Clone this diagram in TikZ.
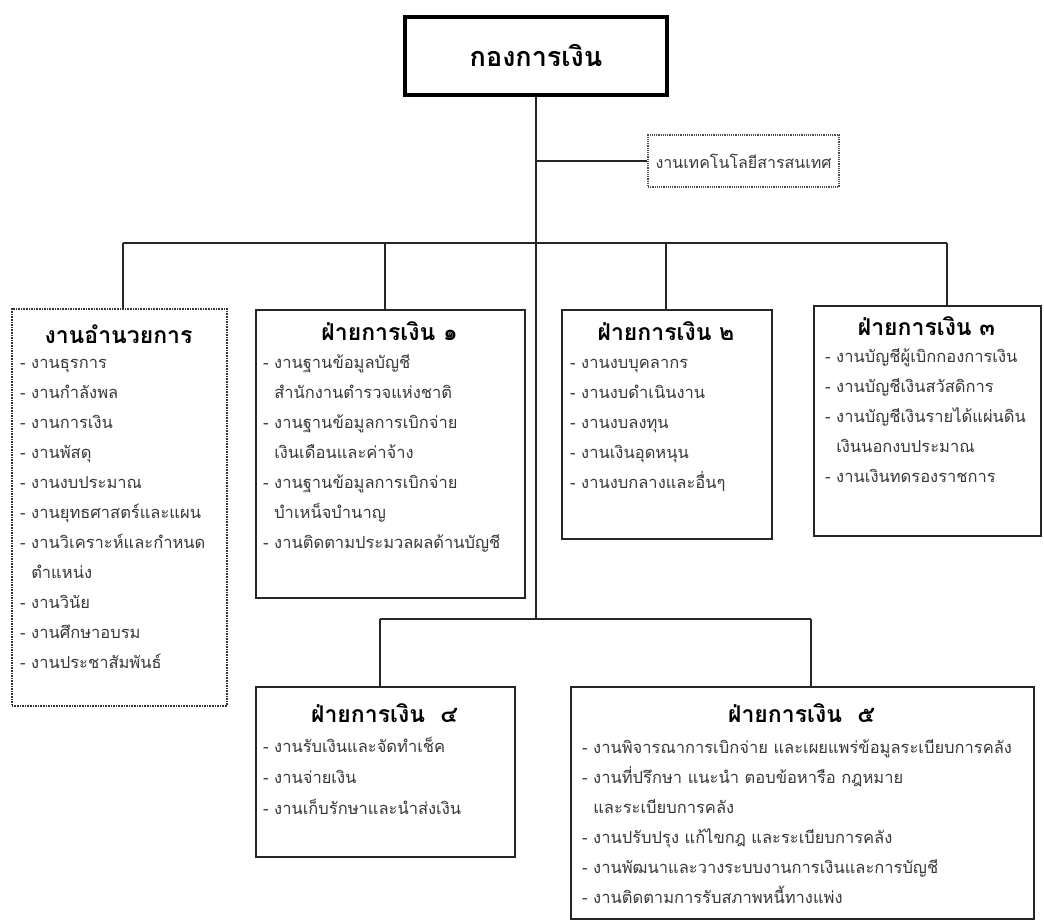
\documentclass[tikz,border=0pt]{standalone}
\usepackage{fontspec}
\setmainfont[Script=Thai]{Loma}
\begin{document}
\begin{tikzpicture}[x=1pt,y=-1pt]
\tikzset{
  conn/.style={draw=black!85, line width=1.5pt},
  boxs/.style={draw=black!85, line width=2pt, rectangle, inner sep=0pt, anchor=north west},
  boxd/.style={draw=black!80, line width=1.6pt, densely dotted, rectangle, inner sep=0pt, anchor=north west},
  ttl/.style={font=\fontsize{23}{28}\selectfont\bfseries, anchor=base, inner sep=0pt},
  itm/.style={font=\fontsize{16.5}{20}\selectfont, text=black!78, anchor=base west, inner sep=0pt},
}
\useasboundingbox (0,0) rectangle (1044,920);
% top
\node[draw=black, line width=4pt, minimum width=262pt, minimum height=78pt, inner sep=0pt,
      font=\fontsize{27}{30}\selectfont\bfseries] (top) at (536,56) {กองการเงิน};
\node[draw=black!70, line width=1.2pt, densely dotted, minimum width=191pt, minimum height=52pt,
      inner sep=0pt, font=\fontsize{16}{20}\selectfont, text=black!78] (it) at (743.5,161) {งานเทคโนโลยีสารสนเทศ};
% boxes
\node[boxd, minimum width=215pt, minimum height=397pt] (b0) at (11,308) {};
\node[boxs, minimum width=269pt, minimum height=288pt] (b1) at (255,309) {};
\node[boxs, minimum width=210pt, minimum height=229pt] (b2) at (561,309) {};
\node[boxs, minimum width=227pt, minimum height=230pt] (b3) at (813,305) {};
\node[boxs, minimum width=259pt, minimum height=170pt] (b4) at (255,686) {};
\node[boxs, minimum width=463pt, minimum height=232pt] (b5) at (570,686) {};
% connectors
\coordinate (low) at (536,619);
\coordinate (d0) at (123,243);
\coordinate (d1) at (385,243);
\coordinate (d2) at (666,243);
\coordinate (d3) at (947,243);
\coordinate (e4) at (380,619);
\coordinate (e5) at (811,619);
\draw[conn] (top.south) -- (low);
\draw[conn] (top.south |- it.west) -- (it.west);
\draw[conn] (d0) -- (d3);
\draw[conn] (d0) -- (d0 |- b0.north);
\draw[conn] (d1) -- (d1 |- b1.north);
\draw[conn] (d2) -- (d2 |- b2.north);
\draw[conn] (d3) -- (d3 |- b3.north);
\draw[conn] (e4) -- (e5);
\draw[conn] (e4) -- (e4 |- b4.north);
\draw[conn] (e5) -- (e5 |- b5.north);
% titles
\node[ttl] (b0t) at (118.5,343) {งานอำนวยการ};
\node[ttl] (b1t) at (389.5,340) {ฝ่ายการเงิน ๑};
\node[ttl] (b2t) at (666,340) {ฝ่ายการเงิน ๒};
\node[ttl] (b3t) at (926.5,335) {ฝ่ายการเงิน ๓};
\node[ttl] (b4t) at (384.5,722) {ฝ่ายการเงิน\ \ ๔};
\node[ttl] (b5t) at (801.5,722) {ฝ่ายการเงิน\ \ ๕};
% items
\foreach \t [count=\i from 0] in {- งานธุรการ, - งานกำลังพล, - งานการเงิน, - งานพัสดุ, - งานงบประมาณ,
  - งานยุทธศาสตร์และแผน, - งานวิเคราะห์และกำหนด, \hphantom{- }ตำแหน่ง, - งานวินัย, - งานศึกษาอบรม, - งานประชาสัมพันธ์}
  \node[itm] (b0i\i) at (20,{368+30*\i}) {\t};
\foreach \t [count=\i from 0] in {- งานฐานข้อมูลบัญชี, \hphantom{- }สำนักงานตำรวจแห่งชาติ, - งานฐานข้อมูลการเบิกจ่าย,
  \hphantom{- }เงินเดือนและค่าจ้าง, - งานฐานข้อมูลการเบิกจ่าย, \hphantom{- }บำเหน็จบำนาญ, - งานติดตามประมวลผลด้านบัญชี}
  \node[itm] (b1i\i) at (263,{368+30*\i}) {\t};
\foreach \t [count=\i from 0] in {- งานงบบุคลากร, - งานงบดำเนินงาน, - งานงบลงทุน, - งานเงินอุดหนุน, - งานงบกลางและอื่นๆ}
  \node[itm] (b2i\i) at (570,{368+30*\i}) {\t};
\foreach \t [count=\i from 0] in {- งานบัญชีผู้เบิกกองการเงิน, - งานบัญชีเงินสวัสดิการ, - งานบัญชีเงินรายได้แผ่นดิน,
  \hphantom{- }เงินนอกงบประมาณ, - งานเงินทดรองราชการ}
  \node[itm] (b3i\i) at (825,{362+30*\i}) {\t};
\foreach \t [count=\i from 0] in {- งานรับเงินและจัดทำเช็ค, - งานจ่ายเงิน, - งานเก็บรักษาและนำส่งเงิน}
  \node[itm] (b4i\i) at (263,{752+31*\i}) {\t};
\foreach \t [count=\i from 0] in {- งานพิจารณาการเบิกจ่าย และเผยแพร่ข้อมูลระเบียบการคลัง,
  - งานที่ปรึกษา แนะนำ ตอบข้อหารือ กฎหมาย, \hphantom{- }และระเบียบการคลัง, - งานปรับปรุง แก้ไขกฎ และระเบียบการคลัง,
  - งานพัฒนาและวางระบบงานการเงินและการบัญชี, - งานติดตามการรับสภาพหนี้ทางแพ่ง}
  \node[itm] (b5i\i) at (582,{753+30*\i}) {\t};
\end{tikzpicture}
\end{document}
